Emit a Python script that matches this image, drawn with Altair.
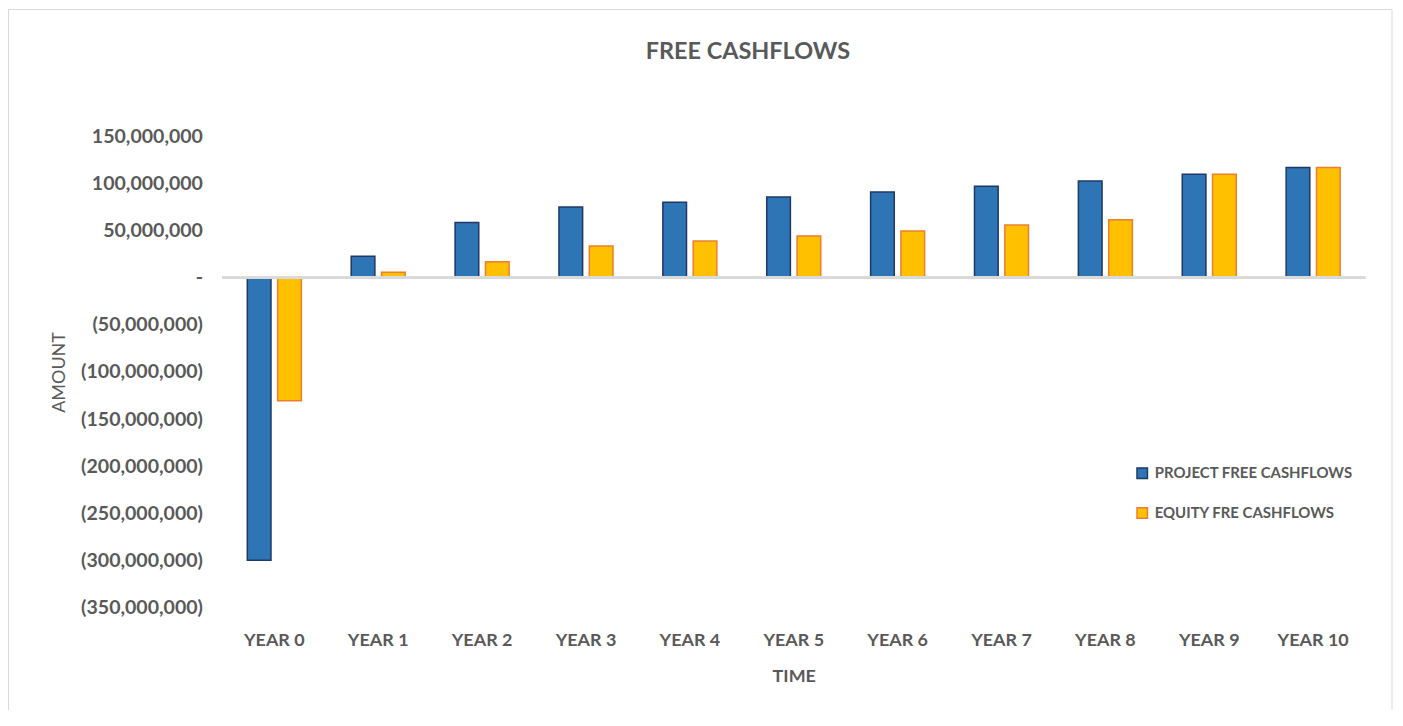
import altair as alt
import pandas as pd

years = ["YEAR 0", "YEAR 1", "YEAR 2", "YEAR 3", "YEAR 4", "YEAR 5",
         "YEAR 6", "YEAR 7", "YEAR 8", "YEAR 9", "YEAR 10"]
project_fcf = [-300.0e6, 22.8e6, 58.7e6, 75.3e6, 80.3e6, 86.0e6,
               91.3e6, 97.2e6, 103.0e6, 110.0e6, 117.3e6]
equity_fcf = [-130.5e6, 5.9e6, 17.2e6, 33.8e6, 39.1e6, 44.4e6,
              49.7e6, 56.0e6, 61.6e6, 110.0e6, 117.3e6]
series_names = ["PROJECT FREE CASHFLOWS", "EQUITY FRE CASHFLOWS"]
fills = ["#2E75B6", "#FFC000"]
strokes = ["#1F3864", "#ED7D31"]
y_ticks = [150e6, 100e6, 50e6, 0, -50e6, -100e6, -150e6, -200e6, -250e6, -300e6, -350e6]

rows = []
for i, yr in enumerate(years):
    rows.append({"year": yr, "series": series_names[0], "value": project_fcf[i]})
    rows.append({"year": yr, "series": series_names[1], "value": equity_fcf[i]})
df = pd.DataFrame(rows)

FONT = "Lato"
TXT = "#595959"
NB = "\u00a0"

label_expr = (
    "datum.value == 0 ? '-" + NB * 3 + "' : (datum.value < 0 ? '(' + format(-datum.value, ',') + ')' : "
    "format(datum.value, ',') + '" + NB + "')"
)

bars = alt.Chart(df).mark_bar(strokeWidth=1.5).encode(
    x=alt.X("year:N", sort=years,
            scale=alt.Scale(paddingInner=0.48, paddingOuter=0.24),
            axis=alt.Axis(title="TIME", labelAngle=0, labelFont=FONT, labelFontSize=18,
                          labelFontWeight="bold", labelColor=TXT, labelPadding=24,
                          titleFont=FONT, titleFontSize=18, titleFontWeight="bold",
                          titleColor=TXT, titlePadding=18, domain=False, ticks=False)),
    xOffset=alt.XOffset("series:N", sort=series_names, scale=alt.Scale(paddingInner=0.22)),
    y=alt.Y("value:Q",
            scale=alt.Scale(domain=[-350e6, 150e6], nice=False, zero=False),
            axis=alt.Axis(title="AMOUNT", values=y_ticks, labelExpr=label_expr,
                          labelFont=FONT, labelFontSize=19.6, labelFontWeight="bold",
                          labelColor=TXT, labelPadding=20, titleFont=FONT,
                          titleFontSize=18, titleFontWeight="normal", titleColor=TXT,
                          titlePadding=12, domain=False, ticks=False, grid=False)),
    color=alt.Color("series:N", sort=series_names, title=None,
                    scale=alt.Scale(domain=series_names, range=fills),
                    legend=alt.Legend(orient="none", legendX=915, legendY=330,
                                      symbolType="square", symbolSize=110,
                                      symbolStrokeWidth=1.5, labelFont=FONT,
                                      labelFontSize=15, labelFontWeight="bold",
                                      labelColor=TXT, rowPadding=23, labelOffset=5,
                                      labelLimit=400)),
    stroke=alt.Stroke("series:N", sort=series_names, title=None,
                      scale=alt.Scale(domain=series_names, range=strokes)),
)

zero_line = alt.Chart(df).mark_rule(color="#D9D9D9", strokeWidth=2).encode(
    y=alt.datum(0)
)

frame = alt.Chart(pd.DataFrame({"a": [0]})).mark_rect(
    fill="transparent", stroke="#D9D9D9", strokeWidth=1
).encode(x=alt.value(-214.5), x2=alt.value(1173), y=alt.value(-127.5), y2=alt.value(700))

chart = alt.layer(frame, bars, zero_line).properties(
    width=1146, height=472,
    autosize=alt.AutoSizeParams(type="none"),
    padding={"left": 215, "top": 128, "right": 30, "bottom": 102},
    title=alt.TitleParams("FREE CASHFLOWS", font=FONT, fontSize=23.5, fontWeight="bold",
                          color=TXT, anchor="middle", dx=-46, offset=0, dy=55),
).configure(background="white").configure_view(stroke=None)

chart.save("out.html", embed_options={"renderer": "svg", "actions": False})
